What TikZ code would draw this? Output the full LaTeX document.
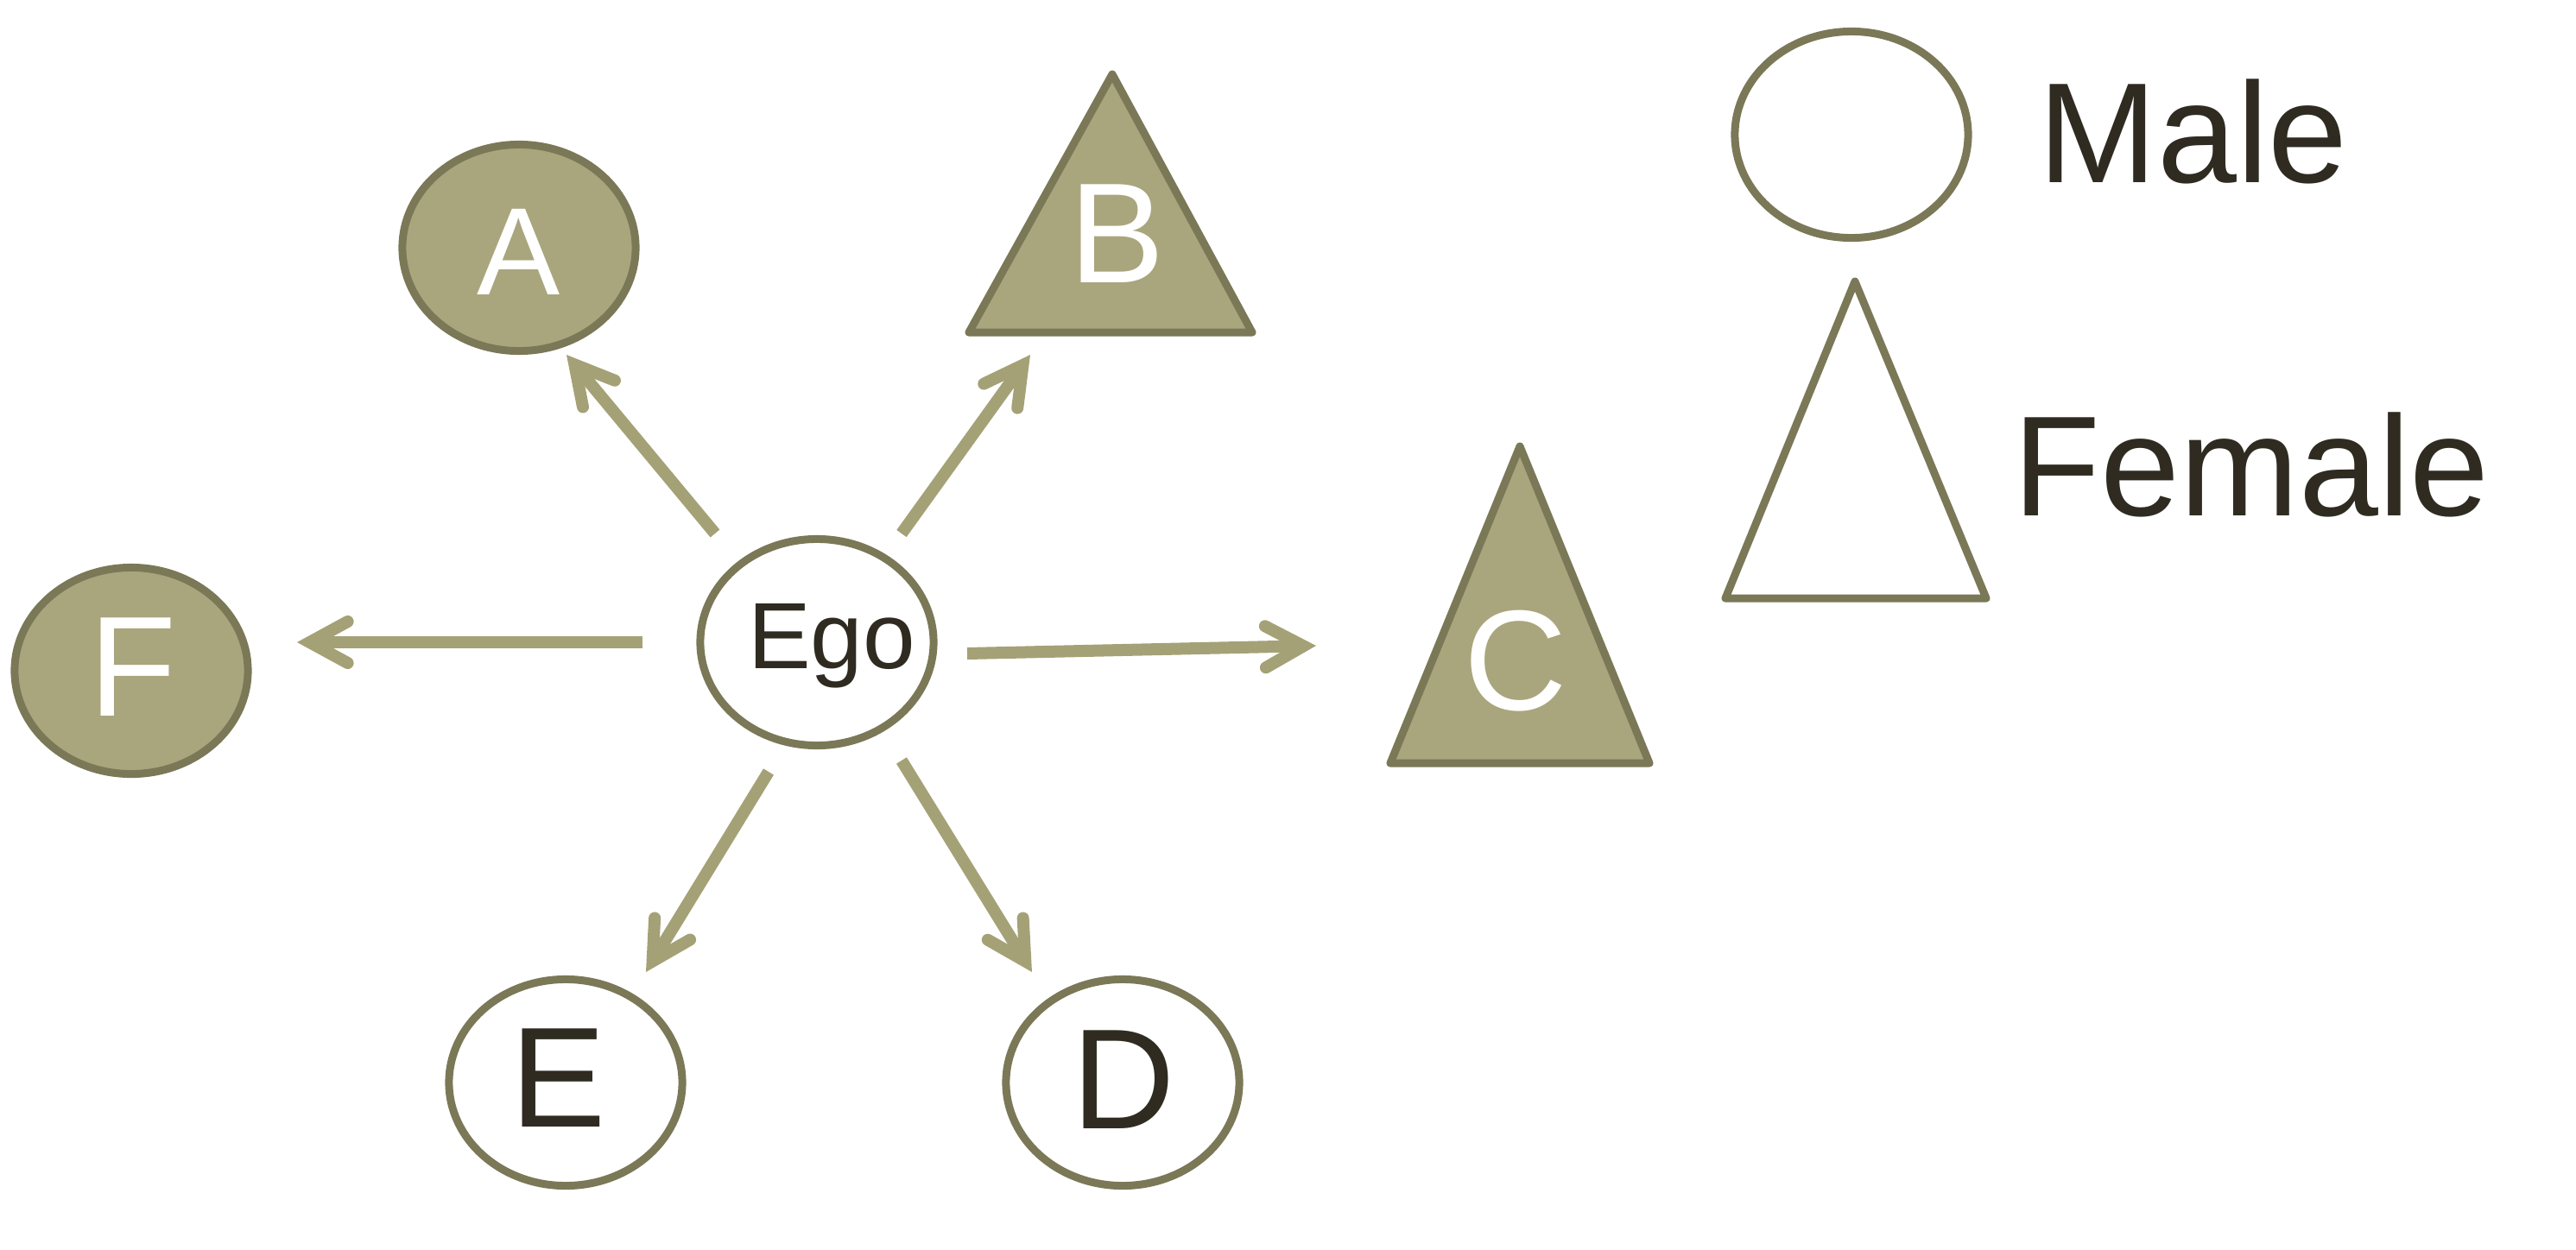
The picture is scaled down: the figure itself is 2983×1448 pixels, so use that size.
\documentclass[tikz,border=0pt]{standalone}
\usepackage{fontspec}
\setmainfont{Liberation Sans}
\usetikzlibrary{arrows.meta,shapes.geometric}
\definecolor{fillc}{RGB}{169,166,126}
\definecolor{linec}{RGB}{123,120,87}
\definecolor{arrc}{RGB}{165,161,119}
\definecolor{txtc}{RGB}{47,43,33}
\begin{document}
\begin{tikzpicture}[x=0.01cm,y=-0.01cm,
  malebox/.style={ellipse, draw=linec, line width=0.09cm, minimum width=2.70cm, minimum height=2.39cm, inner sep=0pt},
  femalebox/.style={draw=linec, line width=0.09cm, line join=round},
  lbl/.style={anchor=base, inner sep=0pt, font=\fontsize{47}{50}\selectfont},
  conn/.style={draw=arrc, line width=0.14cm, -{Straight Barb[length=0.44cm, width=0.48cm, line join=miter, line cap=round]}},
]
\useasboundingbox (0,0) rectangle (2983,1448);
% males
\node[malebox, fill=fillc] (A) at (601,287) {};
\node[malebox, fill=white] (Ego) at (946,744) {};
\node[malebox, fill=fillc] (F) at (152,777) {};
\node[malebox, fill=white] (E) at (655,1254) {};
\node[malebox, fill=white] (D) at (1300,1254) {};
\node[malebox, fill=white] (Mleg) at (2144,156) {};
% females
\draw[femalebox, fill=fillc] (1288,86) -- (1450,385) -- (1122,385) -- cycle;
\draw[femalebox, fill=fillc] (1760,517) -- (1910,884) -- (1610,884) -- cycle;
\draw[femalebox, fill=white] (2148,326) -- (2300,693) -- (1998,693) -- cycle;
% labels
\node[lbl, text=white, font=\fontsize{41}{44}\selectfont] (At) at (601,341) {A};
\node[lbl, text=white] (Bt) at (1294,327) {B};
\node[lbl, text=white] (Ct) at (1755,822) {C};
\node[lbl, text=white] (Ft) at (154,829) {F};
\node[lbl, text=txtc] (Et) at (647,1305) {E};
\node[lbl, text=txtc] (Dt) at (1301,1307) {D};
\node[lbl, text=txtc, font=\fontsize{31}{34}\selectfont] (Egot) at (963,774) {Ego};
\node[lbl, anchor=base west, text=txtc] (Male) at (2360,211) {Male};
\node[lbl, anchor=base west, text=txtc] (Female) at (2331,597) {Female};
% connectors
\coordinate (tA) at (828,618); \coordinate (hA) at (656,411);
\coordinate (tB) at (1044,618); \coordinate (hB) at (1193,411);
\coordinate (tF) at (744,744); \coordinate (hF) at (344,744);
\coordinate (tC) at (1120,757); \coordinate (hC) at (1524,748);
\coordinate (tE) at (890,894); \coordinate (hE) at (748,1126);
\coordinate (tD) at (1044,881); \coordinate (hD) at (1195,1126);
\draw[conn] (tA) -- (hA);
\draw[conn] (tB) -- (hB);
\draw[conn] (tF) -- (hF);
\draw[conn] (tC) -- (hC);
\draw[conn] (tE) -- (hE);
\draw[conn] (tD) -- (hD);
\end{tikzpicture}
\end{document}
